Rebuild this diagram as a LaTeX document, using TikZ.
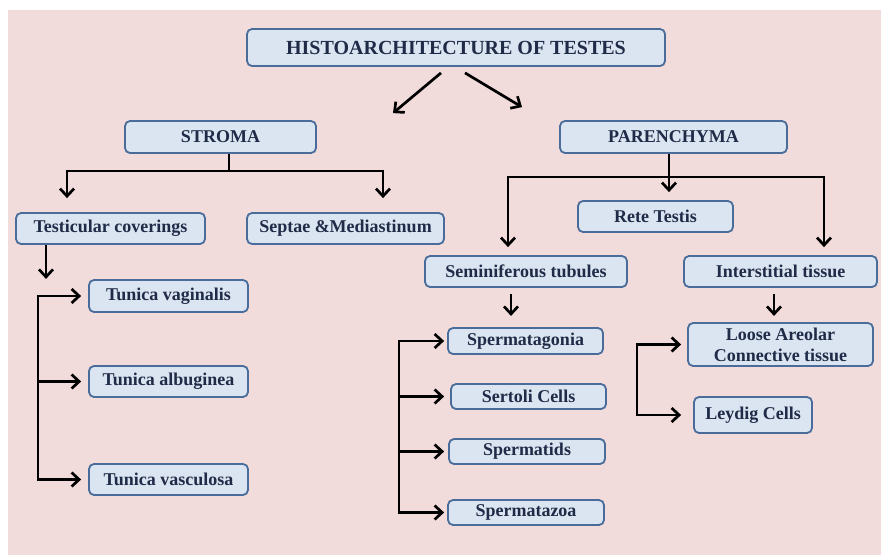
\documentclass[tikz,border=0pt]{standalone}
\usepackage{fontspec}
\setmainfont{Liberation Serif}
\usetikzlibrary{arrows.meta}
\definecolor{bgpink}{HTML}{F2DCDB}
\definecolor{boxfill}{HTML}{DBE5F1}
\definecolor{boxline}{HTML}{4A6C9B}
\definecolor{boxtext}{HTML}{1F2B47}

\begin{document}
\begin{tikzpicture}
  [x=1pt,y=-1pt,
   every node/.style={draw=boxline,fill=boxfill,line width=1.8pt,rounded corners=5pt,
     text=boxtext,font=\fontsize{18}{21}\selectfont\bfseries,inner sep=0pt,align=center},
   conn/.style={line width=2.7pt,black},
   conarr/.style={conn,-{Straight Barb[length=7.5pt,width=14pt]}}]
  \useasboundingbox (0,0) rectangle (881,555);
  \fill[bgpink] (8,10) rectangle (881,555);

  \node[minimum width=418,minimum height=37,font=\fontsize{20}{24}\selectfont\bfseries] (n0) at (456,47.5) {HISTOARCHITECTURE OF TESTES};
  \node[minimum width=191,minimum height=32] (n1) at (220.5,137)   {STROMA};
  \node[minimum width=227,minimum height=32] (n2) at (673.5,137)   {PARENCHYMA};
  \node[minimum width=189,minimum height=31] (n3) at (110.5,228.5) {Testicular coverings};
  \node[minimum width=197,minimum height=31] (n4) at (345.5,228.5) {Septae \&Mediastinum};
  \node[minimum width=159,minimum height=32] (n5) at (168.5,296)   {Tunica vaginalis};
  \node[minimum width=159,minimum height=31] (n6) at (168.5,381.5) {Tunica albuginea};
  \node[minimum width=159,minimum height=31] (n7) at (168.5,479.5) {Tunica vasculosa};
  \node[minimum width=155,minimum height=31] (n8) at (655.5,216.5) {Rete Testis};
  \node[minimum width=202,minimum height=31] (n9) at (526,271.5)   {Seminiferous tubules};
  \node[minimum width=193,minimum height=31] (n10) at (780.5,271.5) {Interstitial tissue};
  \node[minimum width=155,minimum height=26] (n11) at (525.5,341)   {Spermatagonia};
  \node[minimum width=155,minimum height=25] (n12) at (528.5,396.5) {Sertoli Cells};
  \node[minimum width=156,minimum height=25] (n13) at (527,451.5)   {Spermatids};
  \node[minimum width=156,minimum height=25] (n14) at (526,512.5)   {Spermatazoa};
  \node[minimum width=185,minimum height=43] (n15) at (780.5,344.5) {Loose Areolar\\Connective tissue};
  \node[minimum width=118,minimum height=36] (n16) at (753,415)     {Leydig Cells};

  \draw[conarr] ([xshift=-15pt,yshift=-6pt]n0.south) -- ([xshift=172.5pt,yshift=7pt]n1.north);
  \draw[conarr] ([xshift=9pt,yshift=-6pt]n0.south) -- ([xshift=-151.5pt,yshift=13pt]n2.north);

  \draw[conn] ([xshift=8.5pt]n1.south) -- ++(0,17) coordinate (s0);
  \draw[conarr] (s0) -| ([xshift=-43.5pt,yshift=14pt]n3.north);
  \draw[conarr] (s0) -| ([xshift=37.5pt,yshift=14pt]n4.north);

  \draw[conarr] ([xshift=-4.5pt]n2.south) -- ([xshift=13.5pt,yshift=8pt]n8.north);
  \path ([xshift=-4.5pt]n2.south) ++(0,23) coordinate (p0);
  \draw[conarr] (p0) -| ([xshift=-18pt,yshift=8pt]n9.north);
  \draw[conarr] (p0) -| ([xshift=43.5pt,yshift=8pt]n10.north);

  \draw[conarr] ([xshift=-64.5pt]n3.south) -- ++(0,34);
  \coordinate (t0) at (38,390);
  \draw[conarr] (t0) |- ([xshift=-7pt]n5.west);
  \draw[conarr] (t0) |- ([xshift=-7pt]n7.west);
  \draw[conarr] (t0 |- n6.west) -- ([xshift=-7pt]n6.west);

  \draw[conarr] ([xshift=-15pt,yshift=-6pt]n9.south) -- ++(0,22);
  \coordinate (t1) at (399,420);
  \draw[conarr] (t1) |- ([xshift=-3pt]n11.west);
  \draw[conarr] (t1) |- ([xshift=-3pt]n14.west);
  \foreach \n/\s in {n12/6,n13/4}
    \draw[conarr] (t1 |- \n.west) -- ([xshift=-\s pt]\n.west);

  \draw[conarr] ([xshift=-6.5pt,yshift=-6pt]n10.south) -- ++(0,22);
  \coordinate (t2) at (637,380);
  \draw[conarr] (t2) |- ([xshift=-6pt]n15.west);
  \draw[conarr] (t2) |- ([xshift=-12pt]n16.west);
\end{tikzpicture}
\end{document}
